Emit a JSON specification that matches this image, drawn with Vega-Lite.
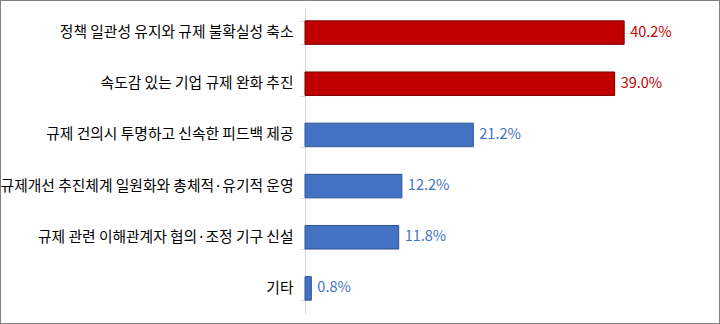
{
  "$schema": "https://vega.github.io/schema/vega-lite/v6.json",
  "width": 720,
  "height": 324,
  "autosize": {"type": "none"},
  "padding": 0,
  "background": "white",
  "config": {"view": {"stroke": "#7f7f7f", "strokeWidth": 2}},
  "data": {
    "values": [
      {"item": "정책 일관성 유지와 규제 불확실성 축소", "value": 0.402, "group": "top"},
      {"item": "속도감 있는 기업 규제 완화 추진", "value": 0.390, "group": "top"},
      {"item": "규제 건의시 투명하고 신속한 피드백 제공", "value": 0.212, "group": "other"},
      {"item": "규제개선 추진체계 일원화와 총체적·유기적 운영", "value": 0.122, "group": "other"},
      {"item": "규제 관련 이해관계자 협의·조정 기구 신설", "value": 0.118, "group": "other"},
      {"item": "기타", "value": 0.008, "group": "other"}
    ]
  },
  "encoding": {
    "y": {
      "field": "item",
      "type": "nominal",
      "sort": null,
      "scale": {"range": [7, 314], "paddingInner": 0.54, "paddingOuter": 0.27},
      "axis": {
        "title": null,
        "offset": -305,
        "domainColor": "#d9d9d9",
        "tickColor": "#d9d9d9",
        "tickBand": "extent",
        "tickSize": 5,
        "labelPadding": 7,
        "labelFont": "Noto Sans CJK KR",
        "labelFontSize": 14.75,
        "labelColor": "#000000",
        "labelLimit": 400
      }
    },
    "x": {
      "field": "value",
      "type": "quantitative",
      "scale": {"domain": [0, 0.5227], "range": [305, 720]},
      "axis": null
    }
  },
  "layer": [
    {
      "mark": {"type": "bar", "strokeWidth": 1},
      "encoding": {
        "color": {"field": "group", "type": "nominal", "scale": {"domain": ["top", "other"], "range": ["#C00000", "#4472C4"]}, "legend": null},
        "stroke": {"field": "group", "type": "nominal", "scale": {"domain": ["top", "other"], "range": ["#7a0000", "#2f528f"]}, "legend": null}
      }
    },
    {
      "mark": {"type": "text", "align": "left", "baseline": "middle", "dx": 6, "font": "Noto Sans CJK KR", "fontSize": 14.5},
      "encoding": {
        "text": {"field": "value", "type": "quantitative", "format": ".1%"},
        "color": {"field": "group", "type": "nominal", "scale": {"domain": ["top", "other"], "range": ["#C00000", "#4472C4"]}, "legend": null}
      }
    }
  ]
}
